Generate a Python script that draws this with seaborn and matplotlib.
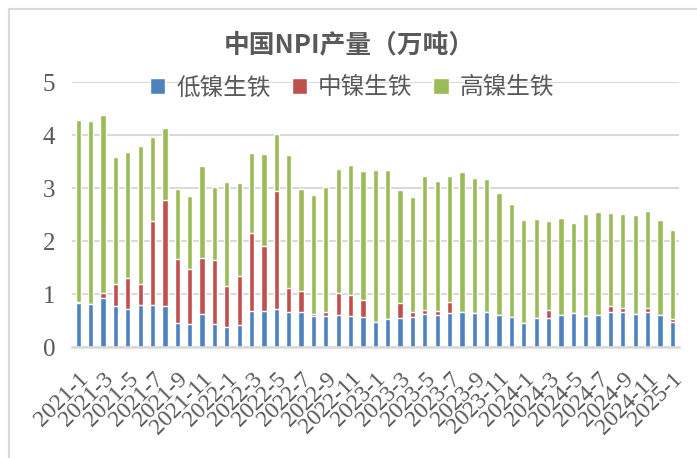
import matplotlib
matplotlib.use("Agg")
import matplotlib.pyplot as plt
from matplotlib.patches import Rectangle
import seaborn as sns
import pandas as pd

# month labels 2021-1 .. 2025-1
months = [f"{y}-{m}" for y in range(2021, 2025) for m in range(1, 13)] + ["2025-1"]

# 低镍生铁 (low nickel pig iron), 万吨
low = [0.83, 0.81, 0.93, 0.78, 0.72, 0.79, 0.79, 0.78, 0.46, 0.44, 0.63, 0.44,
       0.38, 0.42, 0.69, 0.69, 0.72, 0.67, 0.67, 0.59, 0.59, 0.61, 0.59, 0.57,
       0.48, 0.53, 0.56, 0.57, 0.63, 0.61, 0.64, 0.66, 0.64, 0.66, 0.61, 0.57,
       0.46, 0.55, 0.55, 0.61, 0.64, 0.59, 0.61, 0.66, 0.66, 0.62, 0.66, 0.61,
       0.48]
# 中镍生铁
mid = [0.03, 0.00, 0.09, 0.42, 0.59, 0.41, 1.60, 1.99, 1.20, 1.03, 1.05, 1.20,
       0.77, 0.92, 1.46, 1.23, 2.23, 0.44, 0.39, 0.04, 0.07, 0.41, 0.39, 0.32,
       0.00, 0.00, 0.27, 0.09, 0.07, 0.07, 0.21, 0.00, 0.00, 0.00, 0.00, 0.00,
       0.00, 0.00, 0.15, 0.00, 0.00, 0.00, 0.00, 0.12, 0.08, 0.00, 0.08, 0.00,
       0.05]
# 高镍生铁
high = [3.42, 3.46, 3.36, 2.39, 2.38, 2.60, 1.58, 1.37, 1.33, 1.39, 1.74, 1.39,
        1.97, 1.76, 1.52, 1.73, 1.08, 2.52, 1.93, 2.25, 2.37, 2.35, 2.46, 2.44,
        2.87, 2.82, 2.14, 2.18, 2.54, 2.46, 2.39, 2.65, 2.56, 2.52, 2.30, 2.14,
        1.95, 1.88, 1.69, 1.83, 1.71, 1.93, 1.95, 1.76, 1.78, 1.88, 1.84, 1.80,
        1.69]

series_names = ["低镍生铁", "中镍生铁", "高镍生铁"]
colors = ["#4f81bd", "#c0504d", "#9bbb59"]

df = pd.DataFrame({"month": months, "low": low, "mid": mid, "high": high})
df["low_mid"] = df["low"] + df["mid"]
df["total"] = df["low_mid"] + df["high"]

sns.set_style("white")
plt.rcParams["font.family"] = ["Noto Sans CJK SC", "DejaVu Sans"]

W, H = 697, 458
fig = plt.figure(figsize=(W / 100, H / 100), dpi=100)
ax = fig.add_axes([72.1 / W, 1 - 347.3 / H, (678.5 - 72.1) / W, (347.3 - 82.3) / H])

gray_txt = "#595959"
grid_c = "#d9d9d9"

# stacked bars drawn back to front
sns.barplot(data=df, x="month", y="total", color=colors[2], saturation=1,
            width=0.42, label=series_names[2], ax=ax)
sns.barplot(data=df, x="month", y="low_mid", color=colors[1], saturation=1,
            width=0.42, label=series_names[1], ax=ax)
sns.barplot(data=df, x="month", y="low", color=colors[0], saturation=1,
            width=0.42, label=series_names[0], ax=ax)

handles, labels = ax.get_legend_handles_labels()
if ax.get_legend() is not None:
    ax.get_legend().remove()

ax.set_ylim(0, 5)
ax.set_yticks(range(6))
ax.set_xlim(-0.5, len(months) - 0.5)
ax.set_xlabel("")
ax.set_ylabel("")

ax.yaxis.grid(True, color=grid_c, lw=1.5)
ax.set_axisbelow(True)
for s in ["top", "right", "left"]:
    ax.spines[s].set_visible(False)
ax.spines["bottom"].set_color(grid_c)
ax.spines["bottom"].set_linewidth(1.8)

# labels every 2 months, tick marks between categories
ax.set_xticks(range(0, len(months), 2))
ax.set_xticklabels(months[::2], rotation=45, ha="right", va="top",
                   rotation_mode="anchor", family="Liberation Serif",
                   fontsize=17, color=gray_txt)
ax.set_xticks([i - 0.5 for i in range(0, len(months), 2)], minor=True)
ax.tick_params(axis="x", which="major", length=0, pad=15)
ax.tick_params(axis="x", which="minor", length=6, width=1.5, color=grid_c)
ax.tick_params(axis="y", length=0, pad=12)
for t in ax.get_yticklabels():
    t.set_family("Liberation Serif")
    t.set_fontsize(18)
    t.set_color(gray_txt)

fig.text(349 / W, 1 - 45 / H, "中国NPI产量（万吨）", ha="center", va="center",
         fontsize=18.5, fontweight="bold", color=gray_txt)

order = [labels.index(n) for n in series_names]
fig.legend([handles[i] for i in order], [labels[i] for i in order],
           loc="center", bbox_to_anchor=(352 / W, 1 - 88 / H), ncol=3,
           frameon=False, fontsize=17, labelcolor=gray_txt,
           handlelength=0.65, handleheight=0.65, handletextpad=0.45,
           columnspacing=0.9)

# outer chart border
fig.patches.append(Rectangle((8.5 / W, -0.1), 1.0, 1 - 9.5 / H + 0.1,
                             transform=fig.transFigure, fill=False,
                             edgecolor=grid_c, lw=1.5))

fig.savefig("out.png", dpi=100)
